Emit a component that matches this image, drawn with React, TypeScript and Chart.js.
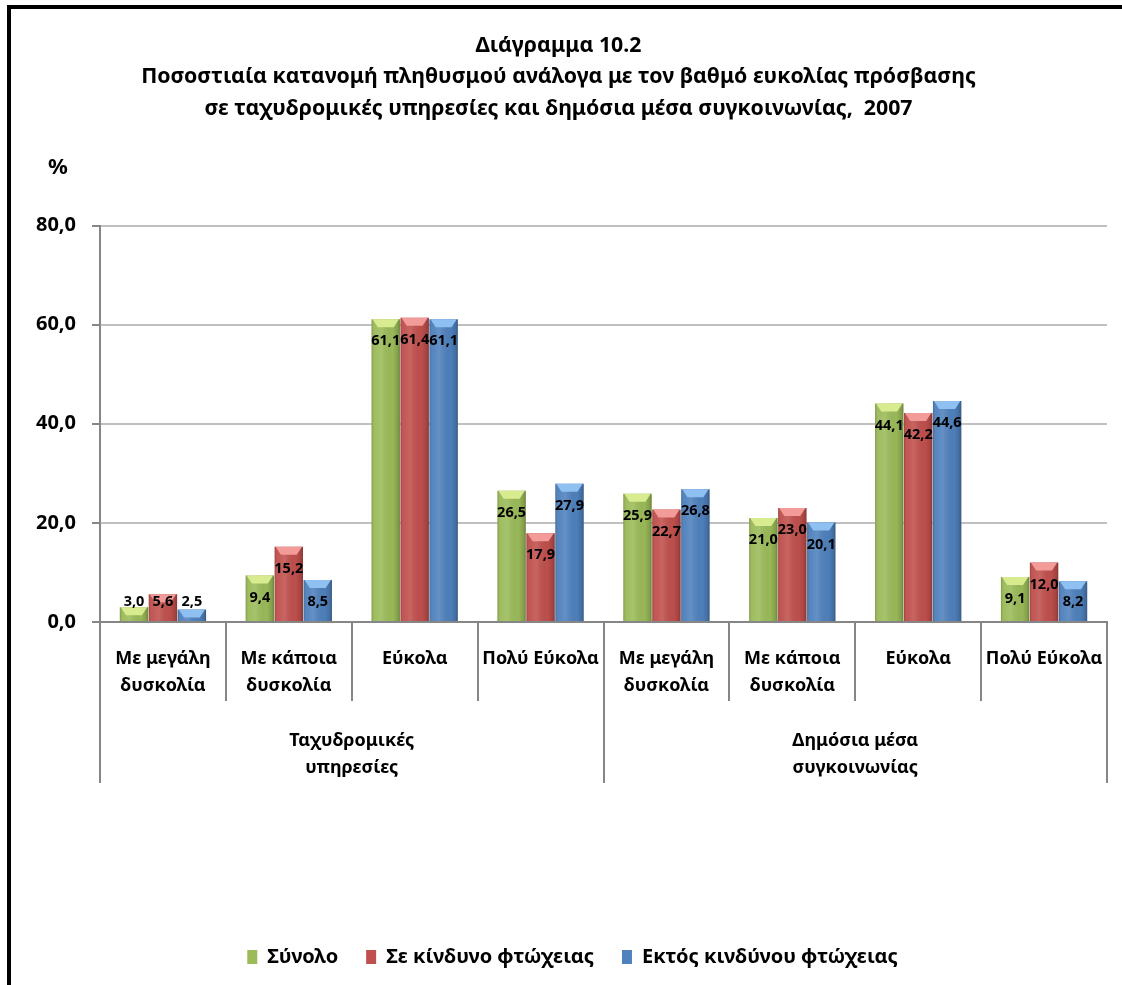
import React, { useEffect, useRef } from "react";
import { Chart, registerables } from "chart.js";

Chart.register(...registerables);

const categories = ["Με μεγάλη|δυσκολία", "Με κάποια|δυσκολία", "Εύκολα", "Πολύ Εύκολα", "Με μεγάλη|δυσκολία", "Με κάποια|δυσκολία", "Εύκολα", "Πολύ Εύκολα"];
const groups = ["Ταχυδρομικές|υπηρεσίες", "Δημόσια μέσα|συγκοινωνίας"];
const seriesNames = ["Σύνολο", "Σε κίνδυνο φτώχειας", "Εκτός κινδύνου φτώχειας"];
const total = [3.0, 9.4, 61.1, 26.5, 25.9, 21.0, 44.1, 9.1];
const atRisk = [5.6, 15.2, 61.4, 17.9, 22.7, 23.0, 42.2, 12.0];
const notAtRisk = [2.5, 8.5, 61.1, 27.9, 26.8, 20.1, 44.6, 8.2];
const yTicks = [0, 20, 40, 60, 80];
const titleLines = [
  "Διάγραμμα 10.2",
  "Ποσοστιαία κατανομή πληθυσμού ανάλογα με τον βαθμό ευκολίας πρόσβασης",
  "σε ταχυδρομικές υπηρεσίες και δημόσια μέσα συγκοινωνίας,  2007",
];

const baseColors = ["#9BBB59", "#C0504D", "#4F81BD"];
const capColors = ["#D8EC8F", "#F29B98", "#8EC0F2"];
const FONT = "'Noto Sans', 'DejaVu Sans', sans-serif";

const fmt = (v: number) => v.toFixed(1).replace(".", ",");

const cylinderPlugin = {
  id: "cylinder",
  afterDatasetsDraw(chart: any) {
    const ctx = chart.ctx;
    ctx.save();
    const labels: any[] = [];
    chart.data.datasets.forEach((ds: any, di: number) => {
      const meta = chart.getDatasetMeta(di);
      meta.data.forEach((bar: any, i: number) => {
        const { x, y, base, width } = bar.getProps(["x", "y", "base", "width"], true);
        const left = x - width / 2;
        const h = base - y;
        const g = ctx.createLinearGradient(left, 0, left + width, 0);
        g.addColorStop(0, "rgba(0,0,0,0.18)");
        g.addColorStop(0.12, "rgba(255,255,255,0.04)");
        g.addColorStop(0.35, "rgba(255,255,255,0.12)");
        g.addColorStop(0.75, "rgba(0,0,0,0.02)");
        g.addColorStop(0.92, "rgba(0,0,0,0.15)");
        g.addColorStop(1, "rgba(0,0,0,0.3)");
        ctx.fillStyle = g;
        ctx.fillRect(left, y, width, h);
        const capH = Math.min(8, h);
        ctx.fillStyle = capColors[di];
        ctx.beginPath();
        ctx.moveTo(left + 1, y);
        ctx.lineTo(left + width - 1, y);
        ctx.lineTo(left + width * 0.78, y + capH);
        ctx.lineTo(left + width * 0.22, y + capH);
        ctx.closePath();
        ctx.fill();
        labels.push({ x, y: Math.min(y + 22, base - 19), text: fmt(ds.data[i]) });
      });
    });
    ctx.fillStyle = "#000";
    ctx.font = `bold 14.5px ${FONT}`;
    ctx.textAlign = "center";
    ctx.textBaseline = "middle";
    labels.forEach((l) => ctx.fillText(l.text, l.x, l.y));
    ctx.restore();
  },
};

const percentPlugin = {
  id: "percent",
  afterLayout(chart: any) {
    if (chart.legend) {
      chart.legend.left += 14;
      chart.legend.right += 14;
    }
  },
  afterDraw(chart: any) {
    const ctx = chart.ctx;
    const area = chart.chartArea;
    ctx.save();
    ctx.fillStyle = "#000";
    ctx.font = `bold 22px ${FONT}`;
    ctx.textAlign = "center";
    ctx.textBaseline = "middle";
    ctx.fillText("%", area.left - 42, area.top - 58);
    ctx.restore();
  },
};

export default function App() {
  const ref = useRef<HTMLCanvasElement>(null);
  useEffect(() => {
    if (!ref.current) return;
    const chart = new Chart(ref.current, {
      type: "bar",
      data: {
        labels: categories.map((c) => c.split("|")),
        datasets: [total, atRisk, notAtRisk].map((d, i) => ({
          label: seriesNames[i],
          data: d,
          backgroundColor: baseColors[i],
          borderWidth: 0,
          categoryPercentage: 0.69,
          barPercentage: 0.98,
        })),
      },
      plugins: [cylinderPlugin, percentPlugin],
      options: {
        responsive: false,
        animation: false,
        layout: { padding: { left: 10, right: 15, top: 0, bottom: 8 } },
        plugins: {
          title: {
            display: true,
            text: titleLines,
            color: "#000",
            font: { family: FONT, size: 21.3, weight: "bold", lineHeight: 1.48 },
            padding: { top: 30, bottom: 101 },
          },
          legend: {
            position: "bottom",
            labels: {
              color: "#000",
              font: { family: FONT, size: 20, weight: "bold" },
              boxWidth: 10,
              boxHeight: 14,
              padding: 28,
            },
          },
          tooltip: { enabled: false },
        },
        scales: {
          x: {
            type: "category",
            offset: true,
            grid: {
              display: true,
              offset: true,
              drawOnChartArea: false,
              tickLength: 79,
              color: "#868686",
              lineWidth: 2,
            },
            border: { display: true, color: "#868686", width: 2 },
            ticks: {
              color: "#000",
              font: { family: FONT, size: 18, weight: "bold", lineHeight: 1.5 },
              padding: -56,
              maxRotation: 0,
              autoSkip: false,
            },
            afterFit: (s: any) => {
              s.height = 79;
            },
          },
          x2: {
            type: "category",
            position: "bottom",
            weight: 1,
            offset: true,
            labels: groups.map((g) => g.split("|")),
            grid: {
              display: true,
              offset: true,
              drawOnChartArea: false,
              tickLength: 82,
              color: "#868686",
              lineWidth: 2,
            },
            border: { display: false },
            ticks: {
              color: "#000",
              font: { family: FONT, size: 18, weight: "bold", lineHeight: 1.5 },
              padding: -56,
              maxRotation: 0,
              autoSkip: false,
            },
            afterFit: (s: any) => {
              s.height = 218;
            },
          },
          y: {
            min: 0,
            max: 80,
            afterBuildTicks: (s: any) => {
              s.ticks = yTicks.map((v) => ({ value: v }));
            },
            grid: {
              color: "#C0C0C0",
              lineWidth: 2,
              tickLength: 8,
              tickColor: "#868686",
            },
            border: { display: true, color: "#868686", width: 2 },
            ticks: {
              color: "#000",
              font: { family: FONT, size: 20, weight: "bold" },
              padding: 16,
              callback: (v: any) => fmt(Number(v)),
            },
            afterFit: (s: any) => {
              s.width = 90;
            },
          },
        },
      },
    });
    return () => chart.destroy();
  }, []);

  return (
    <div style={{ position: "absolute", left: 0, top: 0, width: 1122, height: 985, overflow: "hidden", background: "#fff" }}>
      <canvas ref={ref} width={1122} height={985} style={{ position: "absolute", left: 0, top: 0 }} />
      <div
        style={{
          position: "absolute",
          left: 7,
          top: 5,
          width: 1300,
          height: 1300,
          border: "4px solid #000",
          pointerEvents: "none",
        }}
      />
    </div>
  );
}
